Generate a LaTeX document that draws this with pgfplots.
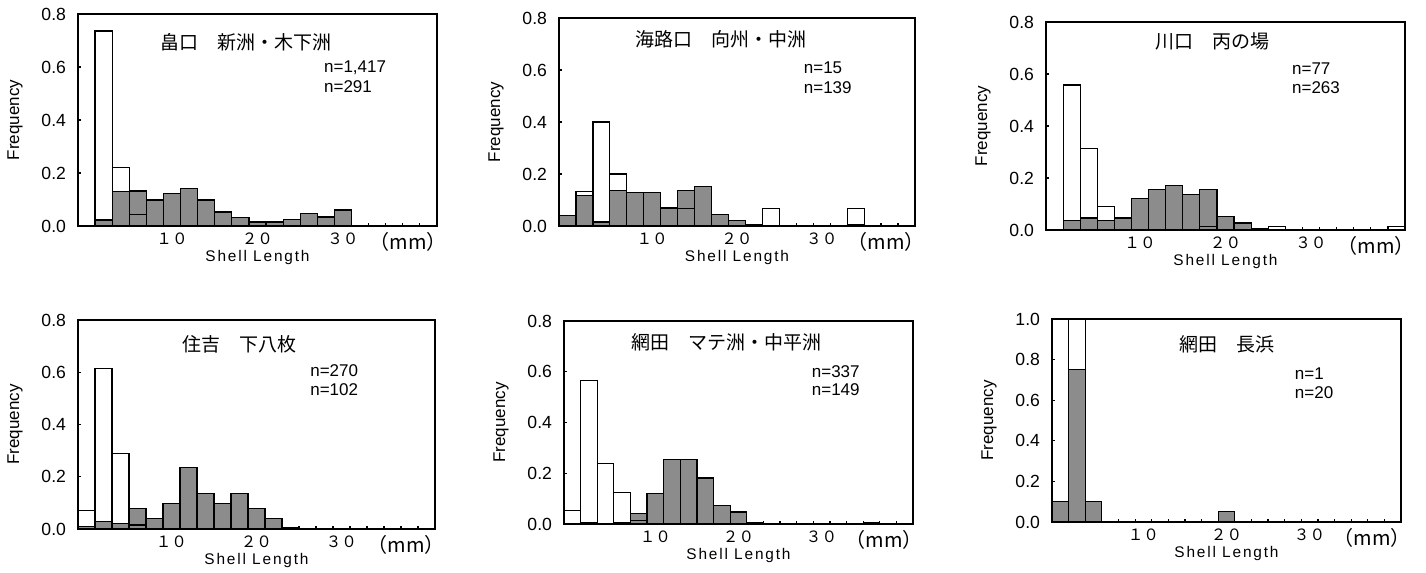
\documentclass[border=0pt]{standalone}
\usepackage{fontspec}
\setmainfont{Liberation Sans}
\newfontfamily\cjk{Noto Sans CJK JP}
\newfontfamily\spaced[LetterSpace=12]{Liberation Sans}
\usepackage{pgfplots}
\pgfplotsset{compat=1.18}
\definecolor{shellgray}{RGB}{140,140,140}

\pgfplotsset{
  shellhist/.style={
    scale only axis,
    xmin=-1, xmax=41, ymin=0, ymax=0.8,
    axis line style={line width=1.1pt},
    tick align=inside, xtick pos=bottom, ytick pos=left,
    major tick length=1.6pt,
    tick style={black, line width=0.6pt},
    xtick={1,3,...,39}, xticklabels={},
    extra x ticks={10,20,30},
    extra x tick labels={１０,２０,３０},
    extra x tick style={major tick length=0pt,
      xticklabel style={font=\cjk\fontsize{7.8pt}{8pt}\selectfont, anchor=center, yshift=-6.5pt}},
    ytick={0,0.2,0.4,0.6,0.8},
    yticklabel style={/pgf/number format/fixed, /pgf/number format/fixed zerofill,
      /pgf/number format/precision=1, /pgf/number format/assume math mode=true,
      font=\fontsize{8.8pt}{10pt}\selectfont, anchor=east, xshift=-2.5pt},
    ylabel={Frequency},
    xlabel={Shell Length},
    every axis y label/.style={at={([xshift=-31.5pt]axis description cs:0,0.5)},
      rotate=90, anchor=center, font=\fontsize{8.5pt}{10pt}\selectfont},
    every axis x label/.style={at={([yshift=-16pt]axis description cs:0.5,0)},
      anchor=center, font=\spaced\fontsize{7.7pt}{9pt}\selectfont},
    clip=false,
  },
  grayfreq/.style={ybar, bar width=2, bar shift=0pt, fill=shellgray, draw=black, line width=0.6pt},
  whitefreq/.style={ybar, bar width=2, bar shift=0pt, fill=none, draw=black, line width=0.6pt},
}
\tikzset{
  ttl/.style={anchor=west, inner sep=0pt, font=\cjk\fontsize{9.5pt}{10pt}\selectfont},
  nlab/.style={anchor=base west, font=\fontsize{8.5pt}{10pt}\selectfont},
  mm/.style={anchor=east, inner sep=0pt, font=\cjk\fontsize{10pt}{11pt}\selectfont},
}

\begin{document}
\begin{tikzpicture}
\useasboundingbox (0,0) rectangle (713pt,286.5pt);

% ---- 畠口 新洲・木下洲
\begin{axis}[shellhist, at={(39pt,173.5pt)}, anchor=south west, width=179.5pt, height=106pt]
\addplot[grayfreq] coordinates {(2,0.023) (4,0.130) (6,0.132) (8,0.098) (10,0.123) (12,0.142) (14,0.098) (16,0.053) (18,0.033) (20,0.015) (22,0.015) (24,0.026) (26,0.048) (28,0.034) (30,0.060)};
\addplot[whitefreq] coordinates {(2,0.736) (4,0.221) (6,0.042)};
\node[ttl] at (rel axis cs:0.228,0.868) {畠口　新洲・木下洲};
\node[nlab] at (rel axis cs:0.666,0.722) {n=1,417};
\node[nlab] at (rel axis cs:0.666,0.632) {n=291};
\node[mm] at ([xshift=5pt,yshift=-8pt]rel axis cs:1,0) {（mm）};
\end{axis}

% ---- 海路口 向州・中洲
\begin{axis}[shellhist, at={(279.5pt,173.5pt)}, anchor=south west, width=178pt, height=104pt]
\addplot[grayfreq] coordinates {(0,0.041) (2,0.118) (4,0.015) (6,0.137) (8,0.129) (10,0.129) (12,0.072) (14,0.137) (16,0.151) (18,0.043) (20,0.022) (22,0.007) (34,0.007)};
\addplot[whitefreq] coordinates {(2,0.133) (4,0.400) (6,0.200) (12,0.067) (14,0.067) (24,0.067) (34,0.067)};
\node[ttl] at (rel axis cs:0.213,0.899) {海路口　向州・中洲};
\node[nlab] at (rel axis cs:0.668,0.731) {n=15};
\node[nlab] at (rel axis cs:0.668,0.639) {n=139};
\node[mm] at ([xshift=5pt,yshift=-8pt]rel axis cs:1,0) {（mm）};
\end{axis}

% ---- 川口 丙の場
\begin{axis}[shellhist, at={(523pt,171.5pt)}, anchor=south west, width=179.5pt, height=104pt]
\addplot[grayfreq] coordinates {(2,0.038) (4,0.046) (6,0.038) (8,0.046) (10,0.122) (12,0.156) (14,0.171) (16,0.137) (18,0.156) (20,0.053) (22,0.027) (24,0.004)};
\addplot[whitefreq] coordinates {(2,0.558) (4,0.312) (6,0.091) (18,0.013) (26,0.013) (40,0.013)};
\node[ttl] at (rel axis cs:0.304,0.909) {川口　丙の場};
\node[nlab] at (rel axis cs:0.666,0.747) {n=77};
\node[nlab] at (rel axis cs:0.666,0.656) {n=263};
\node[mm] at ([xshift=5pt,yshift=-8pt]rel axis cs:1,0) {（mm）};
\end{axis}

% ---- 住吉 下八枚
\begin{axis}[shellhist, at={(39pt,22pt)}, anchor=south west, width=178.5pt, height=104.5pt]
\addplot[grayfreq] coordinates {(0,0.010) (2,0.029) (4,0.020) (6,0.078) (8,0.039) (10,0.098) (12,0.235) (14,0.137) (16,0.098) (18,0.137) (20,0.078) (22,0.039)};
\addplot[whitefreq] coordinates {(0,0.070) (2,0.615) (4,0.289) (6,0.015) (24,0.004)};
\node[ttl] at (rel axis cs:0.291,0.885) {住吉　下八枚};
\node[nlab] at (rel axis cs:0.631,0.732) {n=270};
\node[nlab] at (rel axis cs:0.631,0.641) {n=102};
\node[mm] at ([xshift=5pt,yshift=-8pt]rel axis cs:1,0) {（mm）};
\end{axis}

% ---- 網田 マテ洲・中平洲
\begin{axis}[shellhist, at={(282pt,24.5pt)}, anchor=south west, width=174.5pt, height=101.5pt]
\addplot[grayfreq] coordinates {(2,0.007) (6,0.007) (8,0.040) (10,0.121) (12,0.255) (14,0.255) (16,0.181) (18,0.074) (20,0.047) (22,0.007) (36,0.007)};
\addplot[whitefreq] coordinates {(0,0.053) (2,0.564) (4,0.237) (6,0.125) (8,0.015) (22,0.003) (36,0.003)};
\node[ttl] at (rel axis cs:0.193,0.893) {網田　マテ洲・中平洲};
\node[nlab] at (rel axis cs:0.69,0.724) {n=337};
\node[nlab] at (rel axis cs:0.69,0.631) {n=149};
\node[mm] at ([xshift=5pt,yshift=-8pt]rel axis cs:1,0) {（mm）};
\end{axis}

% ---- 網田 長浜
\begin{axis}[shellhist, at={(526pt,25.5pt)}, anchor=south west, width=174.5pt, height=101.5pt,
  ymax=1.0, ytick={0,0.2,0.4,0.6,0.8,1.0}]
\addplot[grayfreq] coordinates {(0,0.10) (2,0.75) (4,0.10) (20,0.05)};
\addplot[whitefreq] coordinates {(2,1.0)};
\node[ttl] at (rel axis cs:0.363,0.877) {網田　長浜};
\node[nlab] at (rel axis cs:0.676,0.70) {n=1};
\node[nlab] at (rel axis cs:0.676,0.606) {n=20};
\node[mm] at ([xshift=5pt,yshift=-8pt]rel axis cs:1,0) {（mm）};
\end{axis}
\end{tikzpicture}
\end{document}
